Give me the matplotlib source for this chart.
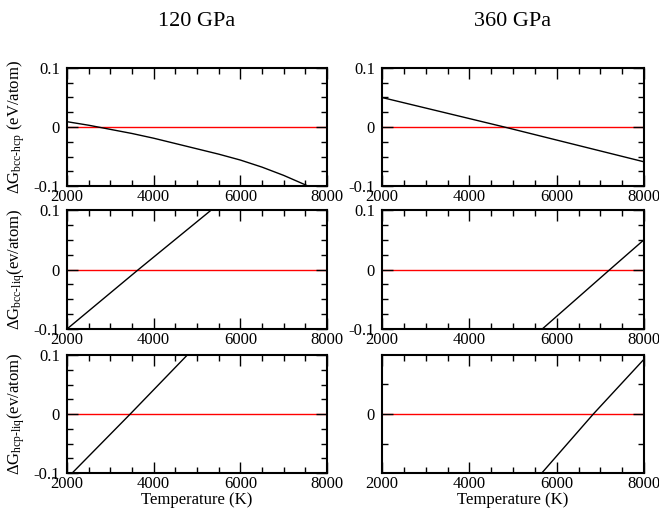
import matplotlib
matplotlib.use("Agg")
import matplotlib.pyplot as plt
from matplotlib.ticker import MultipleLocator, FixedLocator

plt.rcParams['font.family'] = ['Liberation Serif', 'DejaVu Serif']
plt.rcParams['mathtext.fontset'] = 'custom'
plt.rcParams['mathtext.rm'] = 'Liberation Serif'
plt.rcParams['mathtext.it'] = 'Liberation Serif:italic'
plt.rcParams['axes.axisbelow'] = False

# ---- data ----
titles = ["120 GPa", "360 GPa"]
xticks = [2000, 4000, 6000, 8000]

T_bcc_hcp_120 = [2000, 2500, 3000, 3500, 4000, 4500, 5000, 5500, 6000, 6500, 7000, 7500, 8000]
G_bcc_hcp_120 = [0.009, 0.003, -0.004, -0.011, -0.019, -0.028, -0.037, -0.046,
                 -0.056, -0.068, -0.082, -0.098, -0.116]
T_bcc_hcp_360 = [2000, 4800, 8000]
G_bcc_hcp_360 = [0.050, 0.000, -0.059]

T_bcc_liq_120 = [2000, 3650, 5330]
G_bcc_liq_120 = [-0.100, 0.000, 0.100]
T_bcc_liq_360 = [5670, 7220, 8000]
G_bcc_liq_360 = [-0.100, 0.000, 0.050]

T_hcp_liq_120 = [2000, 3460, 5000]
G_hcp_liq_120 = [-0.109, 0.000, 0.117]
T_hcp_liq_360 = [5636, 6840, 8000]
G_hcp_liq_360 = [-0.100, 0.000, 0.091]

ref_T = [2000, 8000]
ref_G = [0.0, 0.0]

ylabels = [r'$\Delta\mathrm{G}_{\mathrm{bcc\text{-}hcp}}$ (eV/atom)',
           r'$\Delta\mathrm{G}_{\mathrm{bcc\text{-}liq}}$(ev/atom)',
           r'$\Delta\mathrm{G}_{\mathrm{hcp\text{-}liq}}$(ev/atom)']

data = [[(T_bcc_hcp_120, G_bcc_hcp_120), (T_bcc_hcp_360, G_bcc_hcp_360)],
        [(T_bcc_liq_120, G_bcc_liq_120), (T_bcc_liq_360, G_bcc_liq_360)],
        [(T_hcp_liq_120, G_hcp_liq_120), (T_hcp_liq_360, G_hcp_liq_360)]]

W, H = 659, 512
fig = plt.figure(figsize=(W/100, H/100), dpi=100)

cols_px = [(67, 327), (382, 644)]
rows_px = [(68, 186), (210, 329), (355, 473)]

for r, (top, bot) in enumerate(rows_px):
    for c, (lft, rgt) in enumerate(cols_px):
        ax = fig.add_axes([lft/W, 1-bot/H, (rgt-lft)/W, (bot-top)/H])
        T, G = data[r][c]
        ax.plot(ref_T, ref_G, color='#ff0000', lw=1.0, zorder=2)
        ax.plot(T, G, color='black', lw=1.0, zorder=2)
        ax.set_xlim(2000, 8000)
        ax.xaxis.set_major_locator(FixedLocator(xticks))
        ax.xaxis.set_minor_locator(MultipleLocator(500))
        if r == 2 and c == 1:
            ax.set_ylim(-0.098, 0.098)
            ax.yaxis.set_major_locator(FixedLocator([0.0]))
            ax.yaxis.set_minor_locator(FixedLocator([-0.05, 0.05]))
            ax.set_yticklabels(['0'])
        else:
            ax.set_ylim(-0.1, 0.1)
            ax.yaxis.set_major_locator(FixedLocator([-0.1, 0.0, 0.1]))
            ax.yaxis.set_minor_locator(MultipleLocator(0.025))
            ax.set_yticklabels(['-0.1', '0', '0.1'])
        ax.set_xticklabels([str(v) for v in xticks])
        ax.tick_params(which='both', direction='in', top=True, right=True,
                       labelsize=12, width=1.0)
        ax.tick_params(which='major', length=8)
        ax.tick_params(which='minor', length=4.5)
        ax.tick_params(axis='x', pad=2)
        ax.tick_params(axis='y', pad=5)
        for s in ax.spines.values():
            s.set_linewidth(1.5)
        if c == 0:
            ax.set_ylabel(ylabels[r], fontsize=12)
            ax.yaxis.set_label_coords(-0.155, 0.5)
        if r == 0:
            ax.set_title(titles[c], fontsize=16, pad=30)
        if r == 2:
            ax.set_xlabel('Temperature (K)', fontsize=12, labelpad=0)

fig.savefig('out.png', dpi=100)
